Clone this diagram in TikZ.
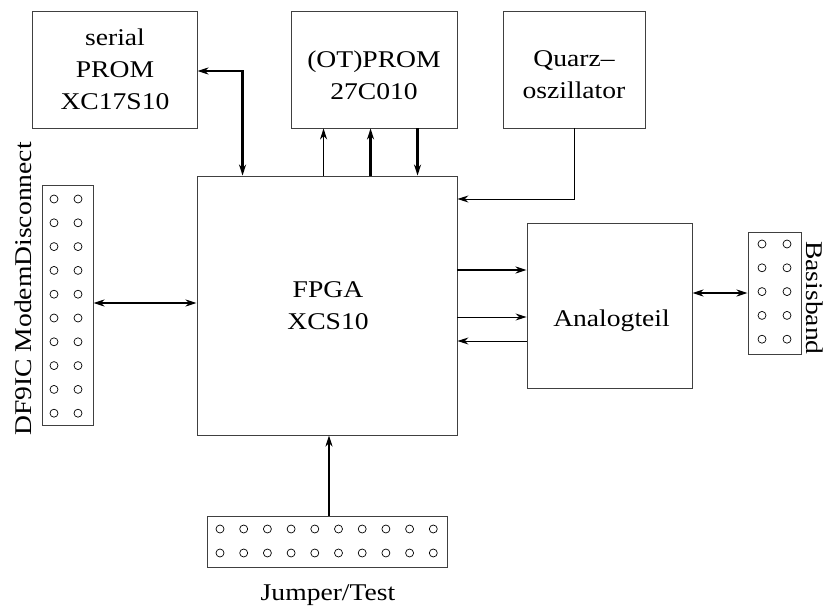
\documentclass[tikz,border=0pt]{standalone}
\usepackage{fontspec}
\setmainfont{Liberation Serif}[FakeStretch=1.15]
\usetikzlibrary{arrows.meta,calc}
\begin{document}
\begin{tikzpicture}[x=1pt,y=-1pt,
  box/.style={draw=black!75,line width=0.9pt,minimum width=#1,inner sep=0pt},
  lbl/.style={font=\fontsize{24}{32}\selectfont,align=center,inner sep=0pt},
  thinline/.style={line width=1pt},
  thickline/.style={line width=2.8pt},
  tip/.style={arrows={-Stealth[length=11pt,width=7pt,inset=3.5pt]}},
  bitip/.style={arrows={Stealth[length=11pt,width=7pt,inset=3.5pt]-Stealth[length=11pt,width=7pt,inset=3.5pt]}},
  pin/.style={draw,line width=0.7pt}]
\useasboundingbox (0,0) rectangle (831,610);
% boxes
\node[box=165pt,minimum height=117pt] (sprom) at (114.5,69.5) {};
\node[box=166pt,minimum height=117pt] (prom) at (374,69.5) {};
\node[box=142pt,minimum height=117pt] (quarz) at (574,69.5) {};
\node[box=260pt,minimum height=259pt] (fpga) at (327,305.5) {};
\node[box=165pt,minimum height=165pt] (analog) at (609.5,305.5) {};
\node[box=53pt,minimum height=122pt] (basis) at (774.5,293) {};
\node[box=51pt,minimum height=240pt] (left) at (67.5,305) {};
\node[box=240pt,minimum height=51pt] (jumper) at (327,541.5) {};
% texts
\node[lbl] (spromT) at (115,69) {serial\\PROM\\XC17S10};
\node[lbl] (promT) at (374,75) {(OT)PROM\\27C010};
\node[lbl] (quarzT) at (574,75) {Quarz–\\oszillator};
\node[lbl] (fpgaT) at (328,306) {FPGA\\XCS10};
\node[lbl] (analogT) at (611.5,320.5) {Analogteil};
\node[lbl,rotate=-90] (basisT) at (815,298) {Basisband};
\node[lbl,rotate=90] (leftT) at (23,289) {DF9IC ModemDisconnect};
\node[lbl,anchor=base] (jumperT) at (328,600) {Jumper/Test};
% pins
\foreach \r in {0,...,9} {
  \draw[pin] (54,199+23.8*\r) circle (4);
  \draw[pin] (78,199+23.8*\r) circle (4);
}
\foreach \r in {0,...,4} {
  \draw[pin] (762,244+23.8*\r) circle (4);
  \draw[pin] (787,244+23.8*\r) circle (4);
}
\foreach \c in {0,...,9} {
  \draw[pin] (220+23.7*\c,529) circle (4);
  \draw[pin] (220+23.7*\c,553) circle (4);
}
% connectors
\draw[thickline,bitip] (sprom.east |- 0,71) -| ($(fpga.north west)+(46,0)$);
\draw[thinline,tip] ($(fpga.north west)+(127,0)$) -- ($(prom.south west)+(33,0)$);
\draw[thickline,tip] ($(fpga.north west)+(174,0)$) -- ($(prom.south west)+(80,0)$);
\draw[thickline,tip] ($(prom.south west)+(127,0)$) -- ($(fpga.north west)+(221,0)$);
\draw[thinline,tip] (quarz.south) |- (fpga.east |- 0,199);
\draw[thickline,tip] (fpga.east |- 0,270) -- (analog.west |- 0,270);
\draw[thinline,tip] (fpga.east |- 0,317) -- (analog.west |- 0,317);
\draw[thinline,tip] (analog.west |- 0,341) -- (fpga.east |- 0,341);
\draw[thickline,bitip] (analog.east |- 0,293) -- (basis.west |- 0,293);
\draw[thickline,bitip] (left.east |- 0,303) -- (fpga.west |- 0,303);
\draw[thickline,tip] (jumper.north -| 329,0) -- (fpga.south -| 329,0);
\end{tikzpicture}
\end{document}
